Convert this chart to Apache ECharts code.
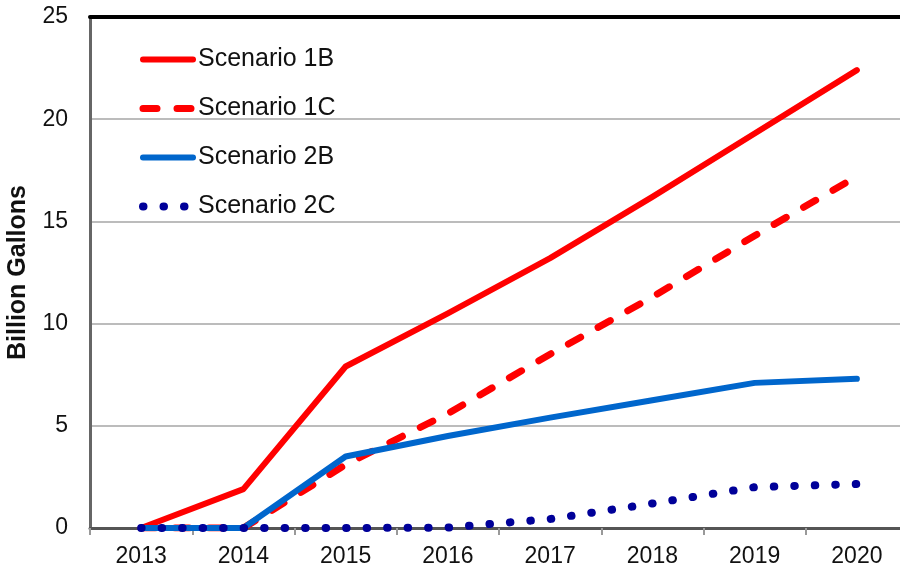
<!DOCTYPE html>
<html>
<head>
<meta charset="utf-8">
<script src="https://cdn.jsdelivr.net/npm/echarts@6/dist/echarts.min.js"></script>
<style>
  html, body { margin: 0; padding: 0; background: #fff; }
  #chart { width: 900px; height: 571px; }
</style>
</head>
<body>
<div id="chart"></div>
<script>
const years = ['2013', '2014', '2015', '2016', '2017', '2018', '2019', '2020'];
const scenario1B = [0, 1.9, 7.9, 10.5, 13.2, 16.2, 19.3, 22.4];
const scenario1C = [0, 0, 3.1, 5.6, 8.5, 11.3, 14.3, 17.2];
const scenario2B = [0, 0, 3.5, 4.5, 5.4, 6.25, 7.1, 7.3];
const scenario2C = [0, 0, 0, 0.02, 0.44, 1.2, 2.0, 2.15];
const yTicks = [0, 5, 10, 15, 20, 25];

const font = 'Liberation Sans, Arial, sans-serif';
const dash1C = [14, 20];
const dots2C = [0.5, 20];
let myChart = echarts.init(document.getElementById('chart'));

function lineSeries(name, data, color, type, width) {
  return {
    name: name,
    type: 'line',
    data: data,
    symbol: 'none',
    smooth: false,
    lineStyle: { color: color, width: width, type: type, cap: 'round', join: 'round' },
    itemStyle: { color: color }
  };
}

myChart.setOption({
  animation: false,
  grid: {
    left: 90,
    width: 818,
    top: 17,
    bottom: 43,
    outerBoundsMode: 'none',
    containLabel: false
  },
  legend: {
    orient: 'vertical',
    left: 134,
    top: 42,
    itemWidth: 50,
    itemHeight: 26,
    itemGap: 24,
    itemStyle: { opacity: 0 },
    textStyle: { fontFamily: font, fontSize: 25, color: '#111' },
    data: [
      { name: 'Scenario 1B', lineStyle: { width: 6, type: 'solid', cap: 'round' } },
      { name: 'Scenario 1C', lineStyle: { width: 7, type: dash1C, cap: 'round' } },
      { name: 'Scenario 2B', lineStyle: { width: 6, type: 'solid', cap: 'round' } },
      { name: 'Scenario 2C', lineStyle: { width: 8, type: dots2C, cap: 'round' } }
    ]
  },
  xAxis: [
    {
      type: 'category',
      data: years,
      boundaryGap: true,
      axisLine: { lineStyle: { color: '#555', width: 3 } },
      axisTick: { show: true, length: 7, lineStyle: { color: '#999', width: 2 } },
      axisLabel: { fontFamily: font, fontSize: 23, color: '#111', margin: 17 },
      splitLine: { show: false }
    },
    {
      type: 'category',
      data: years,
      position: 'top',
      axisLine: { lineStyle: { color: '#000', width: 4 } },
      axisTick: { show: false },
      axisLabel: { show: false }
    }
  ],
  yAxis: {
    type: 'value',
    min: yTicks[0],
    max: yTicks[yTicks.length - 1],
    interval: 5,
    name: 'Billion Gallons',
    nameLocation: 'middle',
    nameGap: 59,
    nameTextStyle: { fontFamily: font, fontSize: 25, fontWeight: 'bold', color: '#111' },
    axisLine: { show: true, lineStyle: { color: '#666', width: 3 } },
    axisTick: { show: false },
    axisLabel: { fontFamily: font, fontSize: 23, color: '#111', margin: 22 },
    splitLine: { lineStyle: { color: '#a6a6a6', width: 1.5 } }
  },
  series: [
    lineSeries('Scenario 1B', scenario1B, '#ff0000', 'solid', 6),
    lineSeries('Scenario 1C', scenario1C, '#ff0000', dash1C, 7),
    lineSeries('Scenario 2B', scenario2B, '#0066cc', 'solid', 6),
    lineSeries('Scenario 2C', scenario2C, '#000099', dots2C, 8)
  ]
});
</script>
</body>
</html>
